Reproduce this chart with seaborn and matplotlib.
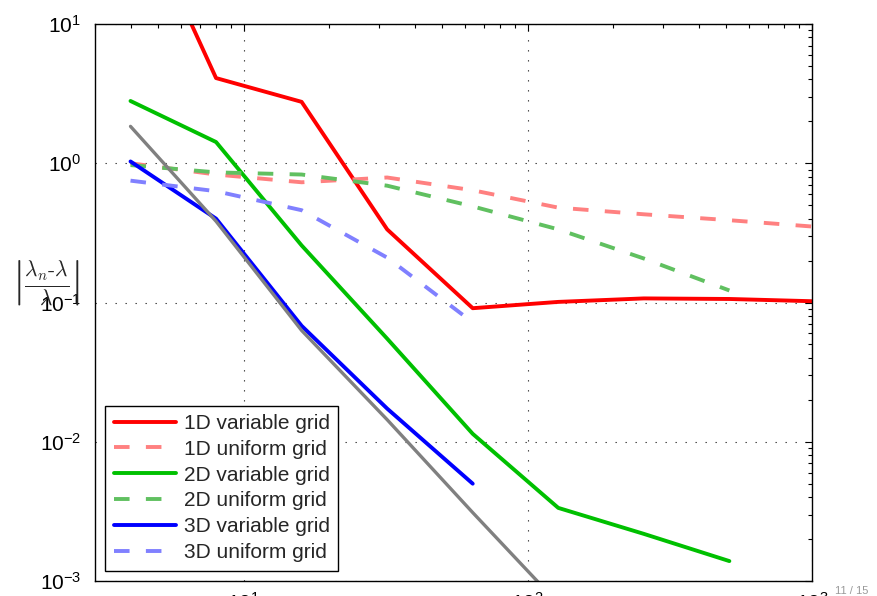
import matplotlib
matplotlib.use('Agg')
import matplotlib.pyplot as plt
import pandas as pd
import seaborn as sns
from matplotlib.ticker import LogLocator, NullFormatter

# grid sizes and relative eigenvalue errors
n = [4, 8, 16, 32, 64, 128, 256, 512, 1024]

var_1d = [90, 4.09, 2.76, 0.335, 0.091, 0.101, 0.107, 0.106, 0.102]
uni_1d = [1.0, 0.83, 0.73, 0.79, 0.64, 0.48, 0.43, 0.39, 0.35]
var_2d = [2.8, 1.42, 0.257, 0.055, 0.0114, 0.00335, 0.00218, 0.00139]
uni_2d = [0.97, 0.86, 0.83, 0.69, 0.49, 0.335, 0.207, 0.122]
var_3d = [1.03, 0.40, 0.068, 0.0173, 0.0050]
uni_3d = [0.75, 0.63, 0.46, 0.21, 0.072]
ref_line = [1.84, 0.383, 0.063, 0.0144, 0.0031, 0.00069]

series = {
    '1D variable grid': var_1d,
    '1D uniform grid': uni_1d,
    '2D variable grid': var_2d,
    '2D uniform grid': uni_2d,
    '3D variable grid': var_3d,
    '3D uniform grid': uni_3d,
    'reference': ref_line,
}

rows = []
for name, vals in series.items():
    for x, y in zip(n, vals):
        rows.append({'n': x, 'err': y, 'series': name})
df = pd.DataFrame(rows)

dash = (0, (4, 4.2))
styles = {
    '1D variable grid': dict(color='#ff0000', linestyle='-', lw=2.8),
    '1D uniform grid': dict(color='#ff8080', linestyle=dash, lw=2.8),
    '2D variable grid': dict(color='#00c000', linestyle='-', lw=2.8),
    '2D uniform grid': dict(color='#60c060', linestyle=dash, lw=2.8),
    '3D variable grid': dict(color='#0000ff', linestyle='-', lw=2.8),
    '3D uniform grid': dict(color='#8080ff', linestyle=dash, lw=2.8),
    'reference': dict(color='#808080', linestyle='-', lw=2.4),
}

sns.set_style('white')
plt.rcParams['font.family'] = ['Liberation Sans', 'DejaVu Sans']

fig = plt.figure(figsize=(8.78, 5.96), dpi=100)
ax = fig.add_axes([95 / 878, 15 / 596, 717 / 878, 557 / 596])

for name in series:
    sub = df[df['series'] == name]
    label = name if name != 'reference' else '_nolegend_'
    sns.lineplot(data=sub, x='n', y='err', ax=ax, label=label,
                 estimator=None, errorbar=None, **styles[name])

ax.set_xscale('log')
ax.set_yscale('log')
ax.set_xlim(3, 1000)
ax.set_ylim(1e-3, 10)

ax.xaxis.set_major_locator(LogLocator(base=10))
ax.yaxis.set_major_locator(LogLocator(base=10))
ax.xaxis.set_minor_locator(LogLocator(base=10, subs=range(2, 10)))
ax.yaxis.set_minor_locator(LogLocator(base=10, subs=range(2, 10)))
ax.xaxis.set_minor_formatter(NullFormatter())
ax.yaxis.set_minor_formatter(NullFormatter())

ax.tick_params(which='both', direction='in', top=True, right=True,
               colors='black', labelsize=15, width=0.8)
ax.tick_params(which='major', length=5)
ax.tick_params(which='minor', length=3)
ax.tick_params(axis='x', pad=7.5)
ax.tick_params(axis='y', pad=10)

ax.grid(True, which='major', color='#333333', lw=0.8, linestyle=(0, (1.2, 7.8)))
ax.set_axisbelow(True)
for sp in ax.spines.values():
    sp.set_color('black')
    sp.set_linewidth(1.0)

ax.set_xlabel('')
ax.set_ylabel(r'$\left|\frac{\lambda_n\text{-}\lambda}{\lambda}\right|$',
              rotation=0, fontsize=22, math_fontfamily='cm',
              ha='center', va='center')
ax.yaxis.set_label_coords(-0.068, 0.535)

leg = ax.legend(loc='lower left', fontsize=15, frameon=True, fancybox=False,
                edgecolor='black', framealpha=1, handlelength=3.0,
                handletextpad=0.35, labelspacing=0.33, borderpad=0.4,
                borderaxespad=0.5)
leg.get_frame().set_linewidth(1.0)

fig.text(835 / 878, 1 - 586 / 596, '11 / 15', color='#999999', fontsize=8,
         ha='left', va='top')

fig.savefig('out.png', dpi=100)
